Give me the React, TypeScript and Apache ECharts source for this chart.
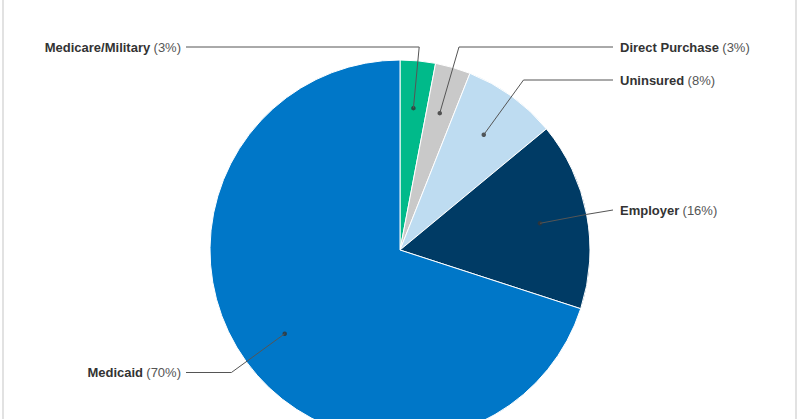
import React, { useEffect, useRef } from "react";
import * as echarts from "echarts";

const categories = ["Medicare/Military", "Direct Purchase", "Uninsured", "Employer", "Medicaid"];
const shares = [3, 3, 8, 16, 70];
const sliceColors = ["#00BA8A", "#C9C9C9", "#BEDCF1", "#003B65", "#0077C8"];

// label layout (positions only)
const labelSide = ["left", "right", "right", "right", "left"];
const labelY = [47, 47, 80, 210, 372.5];

const CX = 400;
const CY = 250;
const R = 190;
const LEFT_X = 181;
const RIGHT_X = 620;

export default function App() {
  const ref = useRef<HTMLDivElement>(null);
  useEffect(() => {
    if (!ref.current) return;
    const chart = echarts.init(ref.current, undefined, { renderer: "svg" });
    const total = shares.reduce((a, b) => a + b, 0);
    const mids: number[] = [];
    let cum = 0;
    shares.forEach((v) => {
      mids.push(cum + v / 2);
      cum += v;
    });
    const pt = (i: number, r: number) => {
      const th = (mids[i] / total) * Math.PI * 2;
      return [CX + r * Math.sin(th), CY - r * Math.cos(th)];
    };
    const leaderPoints = (i: number) => {
      const y = labelY[i];
      const left = labelSide[i] === "left";
      const th = (mids[i] / total) * Math.PI * 2;
      const c = Math.cos(th);
      const dot = pt(i, R * 0.75);
      const elbow = Math.abs(c) < 0.5 ? pt(i, R) : pt(i, (CY - y) / c);
      const endX = left ? LEFT_X + 5 : RIGHT_X - 7;
      return [dot, elbow, [endX, y]];
    };

    chart.setOption({
      animation: false,
      backgroundColor: "#ffffff",
      polar: { center: [CX, CY], radius: R },
      angleAxis: { type: "value", min: 0, max: total, startAngle: 90, clockwise: true, show: false },
      radiusAxis: { type: "value", min: 0, max: 1, show: false },
      graphic: [
        {
          type: "rect",
          shape: { x: 3, y: -5, width: 793, height: 430 },
          style: { fill: "none", stroke: "#e2e2e2", lineWidth: 2 },
          silent: true,
        },
        ...categories.map((_, i) => ({
          type: "polyline",
          z: 100,
          silent: true,
          shape: { points: leaderPoints(i) },
          style: { fill: "none", stroke: "#555555", lineWidth: 1 },
        })),
      ],
      series: [
        {
          type: "pie",
          center: [CX, CY],
          radius: [0, R],
          startAngle: 90,
          clockwise: true,
          avoidLabelOverlap: false,
          itemStyle: { borderColor: "#ffffff", borderWidth: 1 },
          emphasis: { disabled: true },
          data: categories.map((name, i) => ({
            name,
            value: shares[i],
            itemStyle: { color: sliceColors[i] },
          })),
          label: {
            show: true,
            position: "outside",
            formatter: (p: any) => `{n|${p.name}} {p|(${p.value}%)}`,
            rich: {
              n: { fontFamily: "Liberation Sans, Arial, sans-serif", fontSize: 13, fontWeight: "bold", color: "#333333" },
              p: { fontFamily: "Liberation Sans, Arial, sans-serif", fontSize: 13, color: "#555555" },
            },
          },
          labelLine: { show: false },
          labelLayout: (params: any) => {
            const i = params.dataIndex;
            const left = labelSide[i] === "left";
            return {
              x: left ? LEFT_X : RIGHT_X,
              y: labelY[i],
              align: left ? "right" : "left",
              verticalAlign: "middle",
            };
          },
        },
        {
          type: "scatter",
          coordinateSystem: "polar",
          symbol: "circle",
          symbolSize: 4.5,
          silent: true,
          itemStyle: { color: "#333333" },
          data: shares.map((_, i) => [0.75, mids[i]]),
          z: 5,
        },
      ],
    });
    return () => chart.dispose();
  }, []);
  return (
    <div
      ref={ref}
      style={{ position: "fixed", left: 0, top: 0, width: 800, height: 419 }}
    />
  );
}
